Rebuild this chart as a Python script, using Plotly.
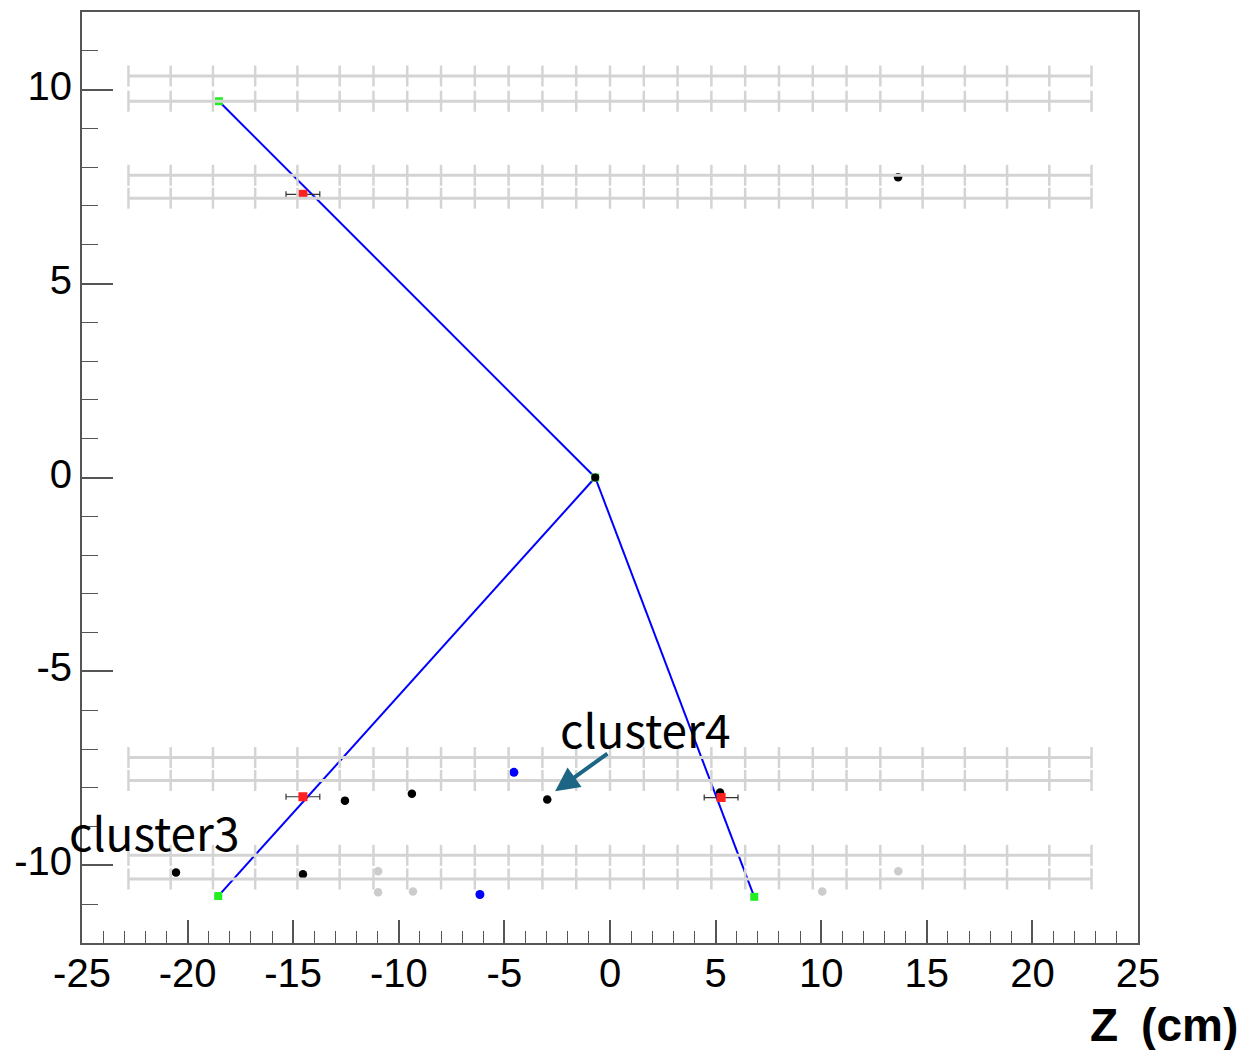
import plotly.graph_objects as go

# Detector layer radii (cm) and module boundaries along z (cm)
layer_y = [10.35, 9.7, 7.79, 7.2, -7.22, -7.81, -9.74, -10.35]
layer_z_min = -22.8
layer_z_max = 22.8
module_edges_z = [-22.8, -20.8, -18.8, -16.8, -14.8, -12.8, -11.2, -9.6, -8.0,
                  -6.4, -4.8, -3.2, -1.6, 0.0, 1.6, 3.2, 4.8, 6.4, 8.0, 9.6,
                  11.2, 12.8, 14.8, 16.8, 18.8, 20.8, 22.8]

# Reconstructed vertex
vertex_z = -0.7
vertex_y = 0.0

# Track end points (outer layer)
track_end_z = [-18.52, -18.55, 6.83]
track_end_y = [9.70, -10.79, -10.81]

# Hits
black_z = [13.64, -12.55, -9.38, -2.97, 5.21, -20.55, -14.54]
black_y = [7.74, -8.33, -8.15, -8.30, -8.12, -10.18, -10.23]
gray_z = [-10.98, -10.98, -9.33, 10.05, 13.65]
gray_y = [-10.15, -10.69, -10.67, -10.67, -10.15]
blue_z = [-4.55, -6.16]
blue_y = [-7.60, -10.75]

# Inner-layer clusters on tracks, with z uncertainty
red_z = [-14.54, -14.54, 5.26]
red_y = [7.30, -8.23, -8.25]
red_z_err = [0.8, 0.8, 0.8]

# Labels
x_ticks = [-25, -20, -15, -10, -5, 0, 5, 10, 15, 20, 25]
y_ticks = [-10, -5, 0, 5, 10]
x_title = "Z\u2002(cm)"
cluster_labels = ["cluster3", "cluster4"]
cluster_label_z = [-21.6, 1.65]
cluster_label_y = [-9.1, -6.45]

# Arrow pointing at cluster4 (tail -> head)
arrow_tail = (-0.05, -7.09)
arrow_head = (-2.6, -8.09)

fig = go.Figure()

fig.add_trace(go.Scatter(x=gray_z, y=gray_y, mode="markers",
                         marker=dict(color="#cccccc", size=8.5), hoverinfo="skip"))
fig.add_trace(go.Scatter(x=black_z, y=black_y, mode="markers",
                         marker=dict(color="black", size=8.5), hoverinfo="skip"))
fig.add_trace(go.Scatter(x=blue_z, y=blue_y, mode="markers",
                         marker=dict(color="#0000ff", size=9), hoverinfo="skip"))

# Tracks from vertex
tz, ty = [], []
for ez, ey in zip(track_end_z, track_end_y):
    tz += [vertex_z, ez, None]
    ty += [vertex_y, ey, None]
fig.add_trace(go.Scatter(x=tz, y=ty, mode="lines",
                         line=dict(color="#0000ff", width=2), hoverinfo="skip"))

fig.add_trace(go.Scatter(x=track_end_z + [vertex_z], y=track_end_y + [vertex_y],
                         mode="markers",
                         marker=dict(color="#22ee22", size=8, symbol="square"),
                         hoverinfo="skip"))
fig.add_trace(go.Scatter(x=[vertex_z], y=[vertex_y], mode="markers",
                         marker=dict(color="black", size=8), hoverinfo="skip"))

fig.add_trace(go.Scatter(x=red_z, y=red_y, mode="markers",
                         marker=dict(color="#ff2020", size=9, symbol="square"),
                         error_x=dict(type="data", array=red_z_err, color="#333333",
                                      thickness=1.2, width=3),
                         hoverinfo="skip"))

# Detector ladders drawn on top
lz, ly = [], []
for yv in layer_y:
    lz += [layer_z_min, layer_z_max, None]
    ly += [yv, yv, None]
fig.add_trace(go.Scatter(x=lz, y=ly, mode="lines",
                         line=dict(color="#d4d4d4", width=3), hoverinfo="skip"))
mz, my = [], []
for yv in layer_y:
    for z in module_edges_z:
        mz.append(z)
        my.append(yv)
fig.add_trace(go.Scatter(x=mz, y=my, mode="markers",
                         marker=dict(symbol="line-ns", size=15,
                                     line=dict(color="#d4d4d4", width=2.5)),
                         hoverinfo="skip"))

# Cluster labels and arrow
for txt, zx, yy in zip(cluster_labels, cluster_label_z, cluster_label_y):
    fig.add_annotation(x=zx, y=yy, text=txt, showarrow=False,
                       font=dict(family="Noto Sans CJK JP", size=46, color="black"))
fig.add_annotation(x=arrow_head[0], y=arrow_head[1],
                   ax=arrow_tail[0], ay=arrow_tail[1], axref="x", ayref="y",
                   text="", showarrow=True, arrowhead=2, arrowsize=1.2,
                   arrowwidth=4, arrowcolor="#1c6585", standoff=0)

fig.add_annotation(xref="paper", yref="paper", x=1.0966, y=-0.088,
                   xanchor="right", yanchor="middle", text="<b>" + x_title + "</b>",
                   showarrow=False,
                   font=dict(family="Liberation Sans", size=46, color="black"))

axis_common = dict(showgrid=False, zeroline=False, showline=True, mirror=True,
                   linecolor="#555555", linewidth=2, ticks="inside",
                   tickcolor="#555555", tickwidth=1.5,
                   tickfont=dict(family="Liberation Sans", size=40, color="black"))
fig.update_xaxes(range=[-25, 25], tickvals=x_ticks,
                 ticktext=[str(v) for v in x_ticks], ticklen=23,
                 ticklabelstandoff=-6,
                 minor=dict(dtick=1, ticks="inside", ticklen=12,
                            tickcolor="#555555", tickwidth=1.2),
                 **axis_common)
fig.update_yaxes(range=[-12, 12], tickvals=y_ticks,
                 ticktext=[str(v) for v in y_ticks], ticklen=31,
                 ticklabelshift=-4,
                 minor=dict(dtick=1, ticks="inside", ticklen=16,
                            tickcolor="#555555", tickwidth=1.2),
                 **axis_common)

fig.update_layout(width=1247, height=1050, showlegend=False,
                  plot_bgcolor="white", paper_bgcolor="white",
                  margin=dict(l=82, r=109, t=10, b=107))

fig.write_html("out.html")
